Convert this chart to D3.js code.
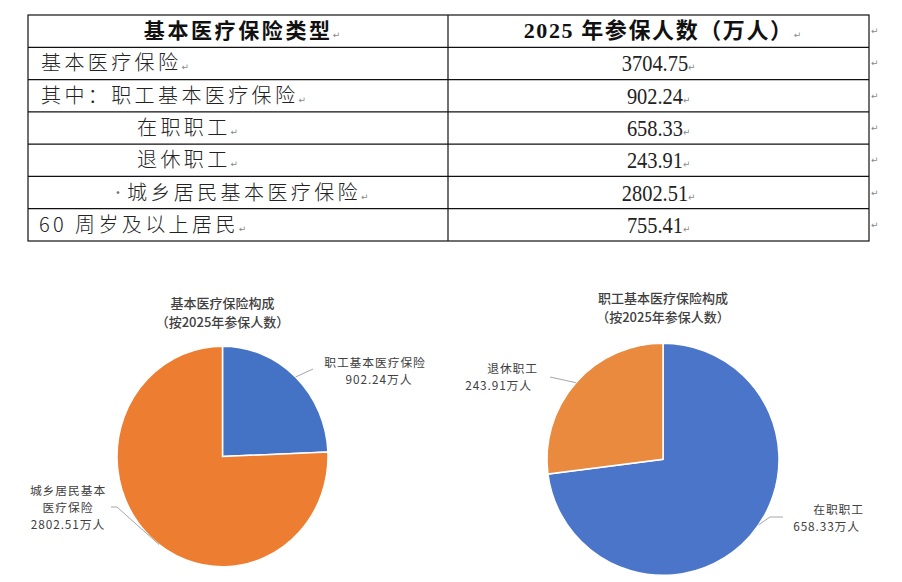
<!DOCTYPE html>
<html><head><meta charset="utf-8">
<script src="https://cdn.jsdelivr.net/npm/d3@7"></script>
<style>body{margin:0;background:#fff}svg{display:block}</style>
</head><body><svg id="c" width="902" height="582"></svg>
<script>
// ---------- data ----------
const tableHeaders = ["基本医疗保险类型", "2025 年参保人数（万人）"];
const tableCategories = ["基本医疗保险", "其中：职工基本医疗保险", "在职职工", "退休职工", "城乡居民基本医疗保险", "60 周岁及以上居民"];
const tableValues = ["3704.75", "902.24", "658.33", "243.91", "2802.51", "755.41"];

const pie1Title = ["基本医疗保险构成", "（按2025年参保人数）"];
const pie1Categories = ["职工基本医疗保险", "城乡居民基本医疗保险"];
const pie1LabelLines = [["职工基本医疗保险"], ["城乡居民基本", "医疗保险"]];
const pie1Values = [902.24, 2802.51];

const pie2Title = ["职工基本医疗保险构成", "（按2025年参保人数）"];
const pie2Categories = ["在职职工", "退休职工"];
const pie2LabelLines = [["在职职工"], ["退休职工"]];
const pie2Values = [658.33, 243.91];
const unit = "万人";

// ---------- drawing ----------
const svg = d3.select("#c");
const CJK = "'Noto Sans CJK SC','Noto Sans',sans-serif";
const SERIF = "'Liberation Serif','DejaVu Serif',serif";

// table
const tLeft = 28, tMid = 448, tRight = 869;
const rowY = d3.scaleBand().domain(d3.range(tableCategories.length + 1)).range([15, 241]);
const tbl = svg.append("g");
const mark = (sel) => sel.append("tspan").attr("font-family", "'DejaVu Sans'").attr("font-size", 9).attr("font-weight", "normal").attr("fill", "#888").attr("letter-spacing", 0).text("↵");

// borders
tbl.append("rect").attr("x", tLeft).attr("y", rowY(0)).attr("width", tRight - tLeft).attr("height", rowY.range()[1] - rowY(0))
  .attr("fill", "none").attr("stroke", "#111").attr("stroke-width", 1.2);
tbl.selectAll("line.h").data(d3.range(1, tableCategories.length + 1)).join("line")
  .attr("x1", tLeft).attr("x2", tRight).attr("y1", d => rowY(d)).attr("y2", d => rowY(d))
  .attr("stroke", "#111").attr("stroke-width", 1.2);
tbl.append("line").attr("x1", tMid).attr("x2", tMid).attr("y1", rowY(0)).attr("y2", rowY.range()[1]).attr("stroke", "#111").attr("stroke-width", 1.2);

// header
const hy = rowY(0) + rowY.bandwidth() / 2 + 7;
const h1 = tbl.append("text").attr("x", (tLeft + tMid) / 2 + 4).attr("y", hy).attr("text-anchor", "middle")
  .attr("font-family", CJK).attr("font-size", 21).attr("font-weight", "bold").attr("letter-spacing", 2.6).attr("fill", "#111");
h1.append("tspan").text(tableHeaders[0]); mark(h1);
const h2 = tbl.append("text").attr("x", (tMid + tRight) / 2 + 4).attr("y", hy).attr("text-anchor", "middle")
  .attr("font-family", SERIF + "," + CJK).attr("font-size", 22).attr("font-weight", "bold").attr("letter-spacing", 1.6).attr("fill", "#111");
h2.append("tspan").text(tableHeaders[1]); mark(h2);

// rows
const indent = [41, 41, 137, 137, 127, 39];
tableCategories.forEach((c, i) => {
  const cy = rowY(i + 1) + rowY.bandwidth() / 2;
  const t = tbl.append("text").attr("x", indent[i]).attr("y", cy + 7)
    .attr("font-family", CJK).attr("font-size", 20).attr("font-weight", 300).attr("letter-spacing", 3.4).attr("fill", "#222");
  t.append("tspan").text(c); mark(t);
  if (i === 4) {
    tbl.append("circle").attr("cx", 118).attr("cy", cy).attr("r", 1.4).attr("fill", "#777");
  }
  const v = tbl.append("g").attr("transform", `translate(${(tMid + tRight) / 2},${cy + 8}) scale(0.85,1)`);
  const vt = v.append("text").attr("x", 0).attr("y", 0).attr("text-anchor", "middle")
    .attr("font-family", SERIF).attr("font-size", 24).attr("fill", "#222");
  vt.append("tspan").text(tableValues[i]);
  mark(vt).attr("font-size", 10);
});
// out-of-table paragraph marks
tbl.selectAll("text.pm").data(d3.range(tableCategories.length + 1)).join("text")
  .attr("x", tRight + 2).attr("y", d => rowY(d) + rowY.bandwidth() / 2 + 3)
  .attr("font-family", "'DejaVu Sans'").attr("font-size", 9).attr("fill", "#888").text("↵");

// pies
const colors = { blue: "#4472C4", orange: "#ED7D31" };

function drawPie(cfg) {
  const g = svg.append("g");
  g.selectAll("text.title").data(cfg.title).join("text")
    .attr("x", cfg.cx).attr("y", (d, i) => cfg.titleY + i * 19).attr("text-anchor", "middle")
    .attr("font-family", CJK).attr("font-size", 13).attr("font-weight", 500).attr("fill", "#404040").text(d => d);

  const pie = d3.pie().sort(null).value(d => d)(cfg.values);
  const arc = d3.arc().innerRadius(0).outerRadius(cfg.r);
  const pg = g.append("g").attr("transform", `translate(${cfg.cx},${cfg.cy}) scale(1,${cfg.sy})`);
  pg.selectAll("path").data(pie).join("path").attr("d", arc)
    .attr("fill", (d, i) => cfg.colors[i]).attr("stroke", "#fff").attr("stroke-width", 1.5)
    .attr("vector-effect", "non-scaling-stroke");

  pie.forEach((p, i) => {
    const L = cfg.labels[i];
    const a = (p.startAngle + p.endAngle) / 2 + (L.da || 0);
    const sx = cfg.cx + Math.sin(a) * cfg.r, sy = cfg.cy - Math.cos(a) * cfg.r * cfg.sy;
    const pts = [[sx, sy]].concat(L.path);
    g.append("path").attr("d", d3.line()(pts)).attr("fill", "none").attr("stroke", "#a6a6a6").attr("stroke-width", 1);
    const lines = cfg.lineText[i].concat([d3.format(".2f")(cfg.values[i]) + unit]);
    lines.forEach((ln, k) => {
      g.append("text").attr("x", L.x[k]).attr("y", L.y + k * 17.2).attr("text-anchor", L.anchor)
        .attr("font-family", CJK).attr("font-size", 11.8).attr("letter-spacing", 0.9).attr("fill", "#404040").text(ln);
    });
  });
}

drawPie({
  cx: 222.5, cy: 456.5, r: 105.5, sy: 1.045, titleY: 308,
  title: pie1Title, values: pie1Values, lineText: pie1LabelLines,
  colors: [colors.blue, colors.orange],
  labels: [
    { path: [[313, 369]], x: [375, 379], y: 367, anchor: "middle" },
    { da: -0.12, path: [[117, 507], [111, 507]], x: [68, 68, 68], y: 495, anchor: "middle" }
  ]
});

drawPie({
  cx: 663, cy: 459.3, r: 116, sy: 1, titleY: 303,
  title: pie2Title, values: pie2Values, lineText: pie2LabelLines,
  colors: ["#4A75C8", "#E98A3E"],
  labels: [
    { da: -0.12, path: [[770, 517], [783, 517]], x: [864, 860], y: 514, anchor: "end" },
    { path: [[550, 377]], x: [538, 532], y: 373, anchor: "end" }
  ]
});
</script></body></html>
